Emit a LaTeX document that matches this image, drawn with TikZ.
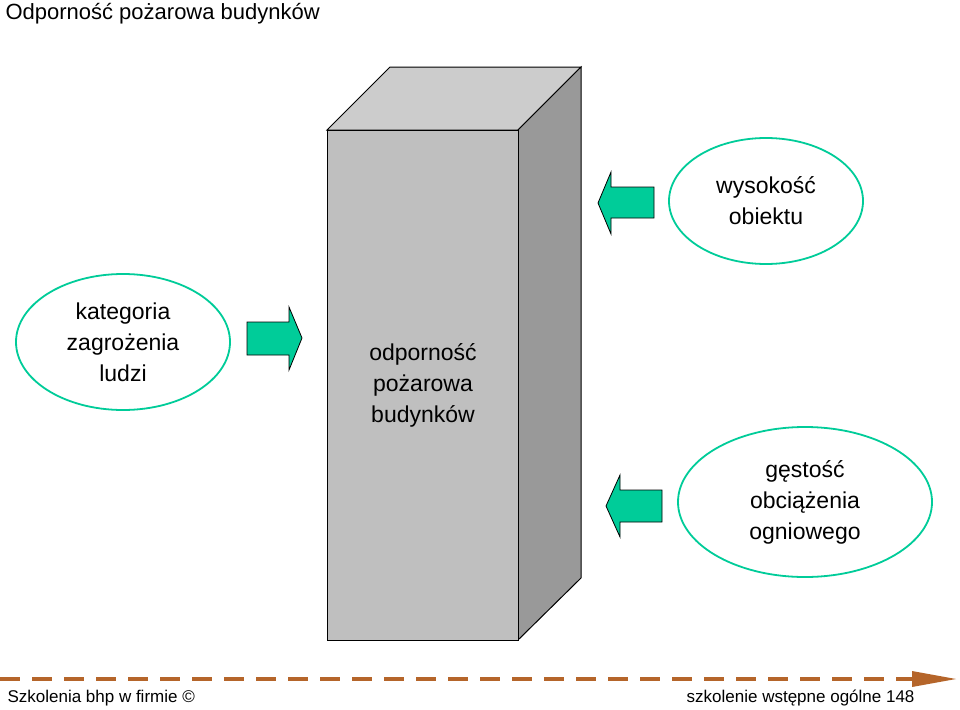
\documentclass[tikz,border=0pt]{standalone}
\usepackage{fontspec}
\setmainfont{Liberation Sans}
\usetikzlibrary{shapes.geometric}
\definecolor{tealg}{HTML}{00CC99}
\definecolor{brownl}{HTML}{B5652A}
\tikzset{
 ell/.style={ellipse,draw=tealg,line width=1.8pt,fill=white,align=center,font=\fontsize{23}{31}\selectfont,inner sep=0pt},
 arr/.style={fill=tealg,draw=black,line width=0.8pt},
 lbl/.style={align=center,font=\fontsize{23}{31}\selectfont}
}
\begin{document}
\begin{tikzpicture}[x=1pt,y=-1pt]
\useasboundingbox (0,0) rectangle (960,709);
% box
\fill[white] (0,0) rectangle (960,709);
\draw[fill=black!20,line width=1pt] (327,130) -- (390,67) -- (581,67) -- (518,130) -- cycle;
\draw[fill=black!40,line width=1pt] (518,130) -- (581,67) -- (581,578) -- (518,640) -- cycle;
\draw[fill=black!25,line width=1pt] (327,130) rectangle (518,640);
\node[lbl] (box) at (423,385) {odporność\\pożarowa\\budynków};
% ellipses
\node[ell,minimum width=214pt,minimum height=136pt] (e1) at (123,342) {kategoria\\zagrożenia\\ludzi};
\node[ell,minimum width=194pt,minimum height=126pt] (e2) at (766,201) {wysokość\\obiektu};
\node[ell,minimum width=254pt,minimum height=150pt] (e3) at (805,502) {gęstość\\obciążenia\\ogniowego};
% arrows
\draw[arr] (247,322) -- (289,322) -- (289,307) -- (302,338) -- (289,370) -- (289,355) -- (247,355) -- cycle;
\draw[arr] (654,187) -- (611,187) -- (611,172) -- (598,203) -- (611,234) -- (611,218) -- (654,218) -- cycle;
\draw[arr] (662,490) -- (620,490) -- (620,475) -- (606,506) -- (620,537) -- (620,522) -- (662,522) -- cycle;
% title
\node[anchor=west,font=\fontsize{22}{26}\selectfont] (t) at (2,14) {Odporność pożarowa budynków};
% footer
\coordinate (fa) at (0,679);
\coordinate (fb) at (912,679);
\coordinate (fc) at (956,679);
\draw[brownl,line width=4pt,dash pattern=on 20pt off 12pt] (fa) -- (fb);
\fill[brownl] (fb) ++(0,-8) -- (fc) -- ++(-44,8) -- cycle;
\node[anchor=west,font=\fontsize{17}{20}\selectfont] (f1) at (4,698) {Szkolenia bhp w firmie ©};
\node[anchor=east,font=\fontsize{17}{20}\selectfont] (f2) at (918,698) {szkolenie wstępne ogólne 148};
\end{tikzpicture}
\end{document}
